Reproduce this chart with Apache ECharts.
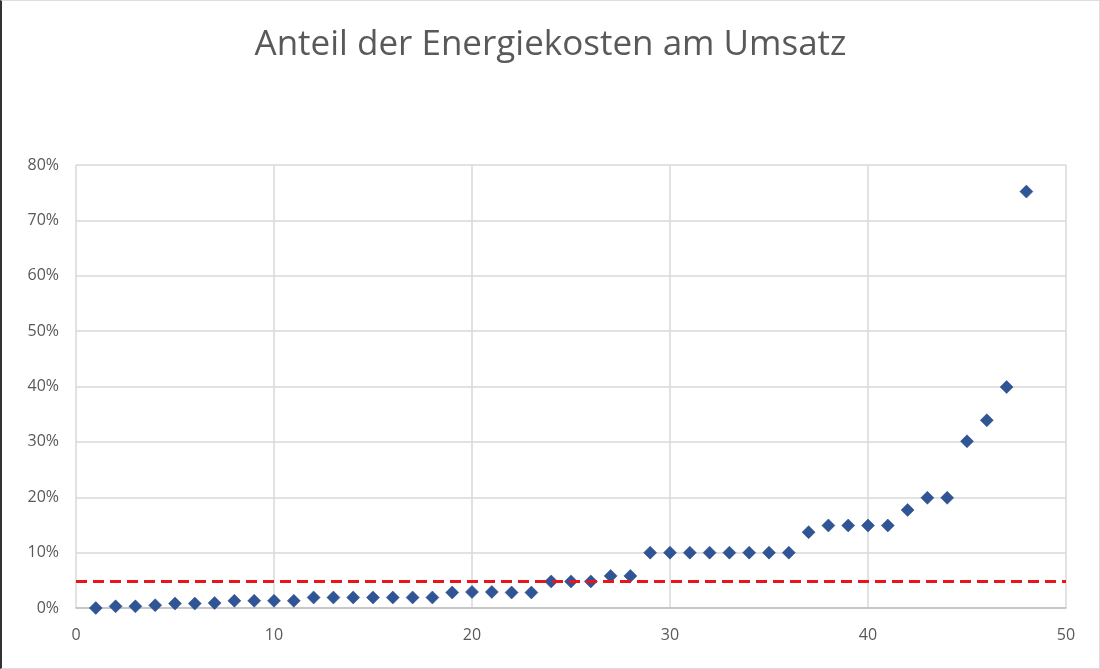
<!DOCTYPE html>
<html>
<head>
<meta charset="utf-8">
<script src="https://cdn.jsdelivr.net/npm/echarts@6/dist/echarts.min.js"></script>
<style>
  html, body { margin: 0; padding: 0; background: #fff; }
  #chart {
    width: 1100px; height: 669px; box-sizing: border-box;
    border-left: 2px solid #333; border-top: 1px solid #ddd;
    border-right: 1px solid #ddd; border-bottom: 1px solid #ddd;
  }
</style>
</head>
<body>
<div id="chart"></div>
<script>
  // Rang der Betriebe (x) und Energiekostenanteil in % (y)
  const ranks = [1,2,3,4,5,6,7,8,9,10,11,12,13,14,15,16,17,18,19,20,21,22,23,24,
                 25,26,27,28,29,30,31,32,33,34,35,36,37,38,39,40,41,42,43,44,45,46,47,48];
  const shares = [0, 0.3, 0.3, 0.5, 0.8, 0.8, 0.9, 1.3, 1.3, 1.3, 1.3, 1.9, 1.9, 1.9, 1.9, 1.9,
                  1.9, 1.9, 2.8, 2.9, 2.9, 2.8, 2.8, 4.8, 4.8, 4.8, 5.8, 5.8, 10, 10, 10, 10,
                  10, 10, 10, 10, 13.7, 14.9, 14.9, 14.9, 14.9, 17.7, 19.9, 19.9, 30.1, 33.9, 39.9, 75.2];
  const threshold = 4.9;

  const myChart = echarts.init(document.getElementById('chart'));
  const labelFont = { color: '#595959', fontSize: 16, fontFamily: 'Open Sans, Liberation Sans, sans-serif' };

  myChart.setOption({
    animation: false,
    title: {
      text: 'Anteil der Energiekosten am Umsatz',
      left: 'center',
      top: 22,
      textStyle: { color: '#595959', fontSize: 35, fontWeight: 'normal', fontFamily: 'Open Sans, Liberation Sans, sans-serif' }
    },
    grid: { left: 74, right: 33, top: 164, bottom: 60 },
    xAxis: {
      type: 'value', min: 0, max: 50, interval: 10,
      axisLine: { lineStyle: { color: '#bfbfbf', width: 1.5 } },
      axisTick: { show: false },
      axisLabel: Object.assign({ margin: 19 }, labelFont),
      splitLine: { show: true, lineStyle: { color: '#d9d9d9', width: 1.5 } }
    },
    yAxis: {
      type: 'value', min: 0, max: 80, interval: 10,
      axisLine: { show: false },
      axisTick: { show: false },
      axisLabel: Object.assign({ margin: 17, formatter: '{value}%' }, labelFont),
      splitLine: { show: true, lineStyle: { color: '#d9d9d9', width: 1.5 } }
    },
    series: [{
      type: 'scatter',
      symbol: 'diamond',
      symbolSize: 13,
      itemStyle: { color: '#2f5597', borderColor: '#264478', borderWidth: 0.5, opacity: 1 },
      data: ranks.map((r, i) => [r, shares[i]]),
      markLine: {
        silent: true,
        symbol: 'none',
        label: { show: false },
        lineStyle: { color: '#e8161b', width: 3, type: [11, 6] },
        data: [{ yAxis: threshold }]
      },
      z: 3
    }]
  });
  window.onresize = function () {
    myChart.resize();
  };
</script>
</body>
</html>
